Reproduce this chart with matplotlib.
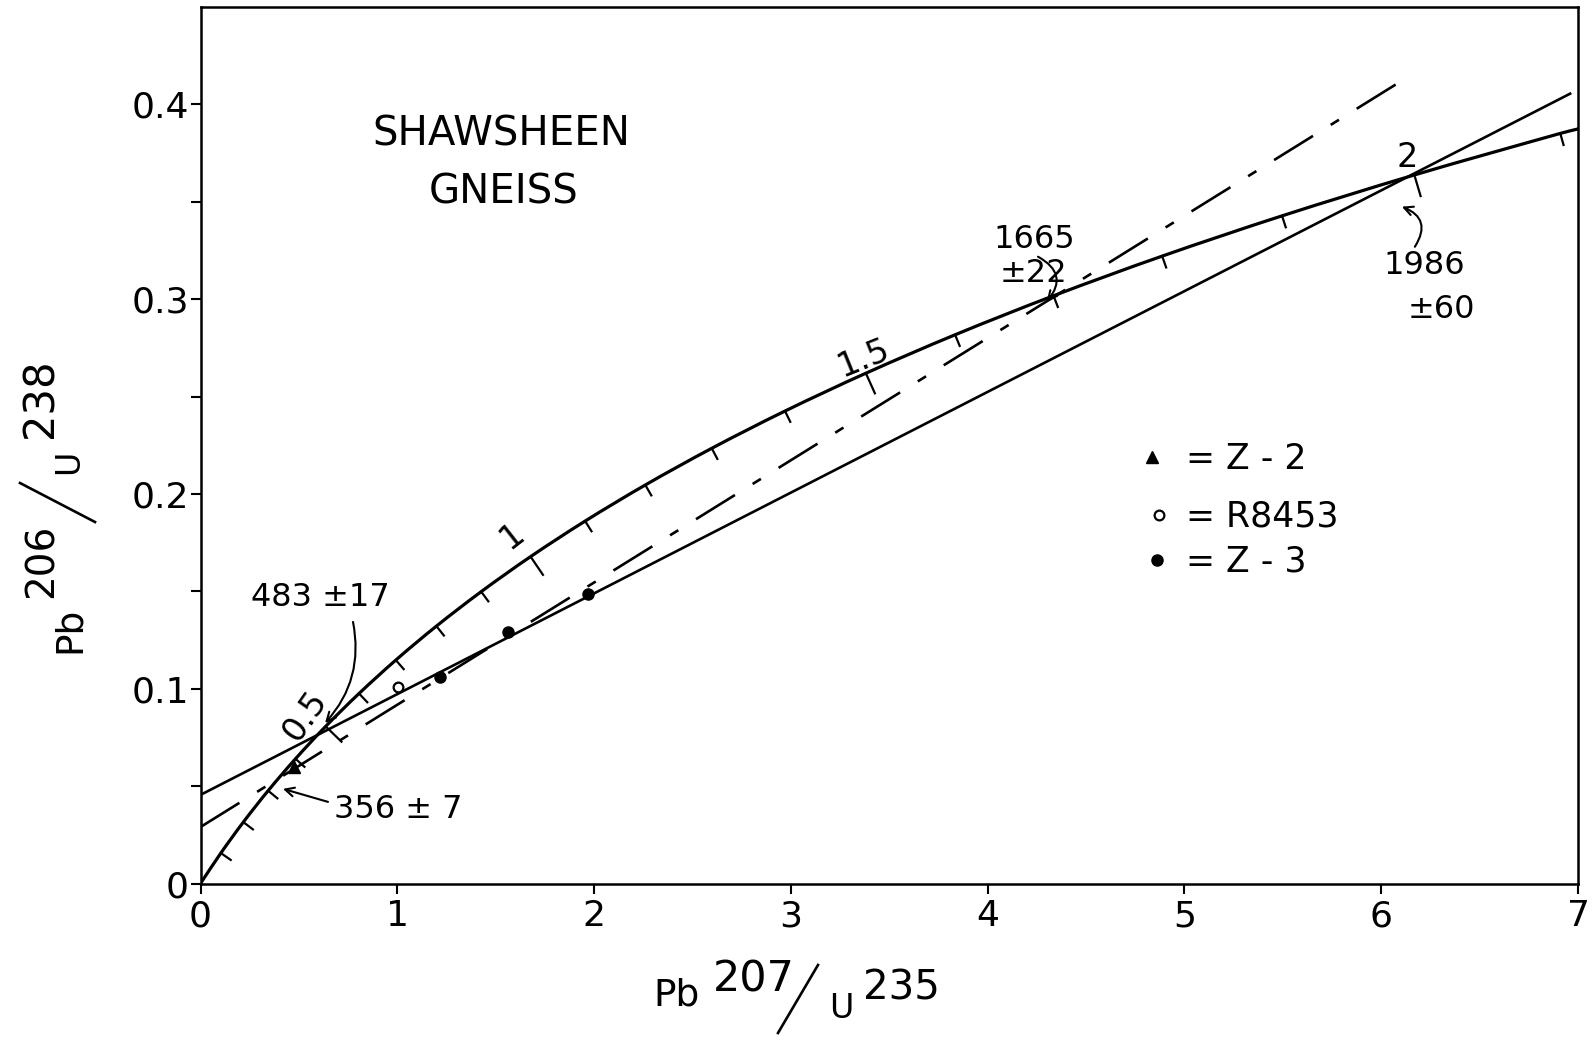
import matplotlib
matplotlib.use("Agg")
import matplotlib.pyplot as plt
import numpy as np
from matplotlib.lines import Line2D
from matplotlib.path import Path
from matplotlib.patches import PathPatch

plt.rcParams['font.family'] = ['DejaVu Sans']
plt.rcParams['lines.scale_dashes'] = False

W, H = 1596, 1046

# Concordia: ages (Ga) with Pb207/U235 and Pb206/U238 ratios
concordia_age = [0.0, 0.1, 0.2, 0.3, 0.4, 0.5, 0.6, 0.7, 0.8, 0.9, 1.0,
                 1.1, 1.2, 1.3, 1.4, 1.5, 1.6, 1.7, 1.8, 1.9, 2.0, 2.1]
concordia_x = [0.0, 0.1035, 0.2177, 0.3437, 0.4828, 0.6362, 0.8056, 0.9925,
               1.1987, 1.4264, 1.6774, 1.9546, 2.2604, 2.5980, 2.9703, 3.3812,
               3.8346, 4.3349, 4.8869, 5.4961, 6.1684, 6.9100]
concordia_y = [0.0, 0.01563, 0.03151, 0.04764, 0.06402, 0.08067, 0.09754,
               0.11470, 0.13213, 0.14983, 0.16782, 0.18607, 0.20460, 0.22343,
               0.24256, 0.26198, 0.28171, 0.30175, 0.32210, 0.34277, 0.36376,
               0.38510]
# the curve runs on to the right-hand edge
concordia_end_x = 7.0
concordia_end_y = 0.3874

# labelled ages along the concordia
age_labels = ["0.5", "1", "1.5", "2"]
age_label_values = [0.5, 1.0, 1.5, 2.0]

# discordia chords
chord_solid_x = [0.0, 6.96]
chord_solid_y = [0.0455, 0.4055]
chord_dash_x = [0.0, 6.15]
chord_dash_y = [0.029, 0.415]

# zircon analyses
z2_x = [0.476]
z2_y = [0.0596]
r8453_x = [1.004]
r8453_y = [0.1009]
z3_x = [1.215, 1.562, 1.971]
z3_y = [0.1061, 0.1291, 0.1484]

sample_names = ["Z - 2", "R8453", "Z - 3"]

x_ticks = [0, 1, 2, 3, 4, 5, 6, 7]
x_ticklabels = ["0", "1", "2", "3", "4", "5", "6", "7"]
y_ticks = [0.0, 0.05, 0.1, 0.15, 0.2, 0.25, 0.3, 0.35, 0.4]
y_ticklabels = ["0", "", "0.1", "", "0.2", "", "0.3", "", "0.4"]

ink = "black"

fig = plt.figure(figsize=(W / 100, H / 100), dpi=100, facecolor="white")
ax = fig.add_axes([200.5 / W, 1 - 883.5 / H, (1578 - 200.5) / W, (883.5 - 7) / H])
ax.set_xlim(0, 7)
ax.set_ylim(0, 0.450)

for sp in ax.spines.values():
    sp.set_linewidth(1.8)
ax.set_xticks(x_ticks)
ax.set_xticklabels(x_ticklabels)
ax.set_yticks(y_ticks)
ax.set_yticklabels(y_ticklabels)
ax.tick_params(axis="both", direction="out", length=7.5, width=1.5, labelsize=26)
ax.tick_params(axis="x", pad=4)
ax.tick_params(axis="y", pad=1)


def px2data(px, py):
    return (px - 200.5) / 196.8, (883.5 - py) / 1947.0


# concordia curve: smooth cubic path through the listed points
cx = concordia_x + [concordia_end_x]
cy = concordia_y + [concordia_end_y]
disp = ax.transData.transform(np.column_stack([cx, cy]))
inv = ax.transData.inverted()
seg_len = np.hypot(*np.diff(disp, axis=0).T)
t = np.concatenate([[0], np.cumsum(seg_len)])
m = np.zeros_like(disp)
m[0] = (disp[1] - disp[0]) / (t[1] - t[0])
m[-1] = (disp[-1] - disp[-2]) / (t[-1] - t[-2])
for i in range(1, len(disp) - 1):
    m[i] = (disp[i + 1] - disp[i - 1]) / (t[i + 1] - t[i - 1])
verts = [disp[0]]
codes = [Path.MOVETO]
for i in range(len(disp) - 1):
    h = t[i + 1] - t[i]
    verts += [disp[i] + m[i] * h / 3, disp[i + 1] - m[i + 1] * h / 3, disp[i + 1]]
    codes += [Path.CURVE4] * 3
verts_data = inv.transform(np.array(verts))
ax.add_patch(PathPatch(Path(verts_data, codes), fill=False, edgecolor=ink,
                       lw=2.3, zorder=3, capstyle="round"))

# 0.1 Ga ticks on the concordia, perpendicular on the lower side
for i in range(1, len(concordia_age)):
    tan = m[i] / np.hypot(*m[i])
    n = np.array([tan[1], -tan[0]])
    major = any(abs(concordia_age[i] - a) < 1e-6 for a in age_label_values)
    L = 22 if major else 12
    seg = inv.transform(np.vstack([disp[i], disp[i] + L * n]))
    ax.plot(seg[:, 0], seg[:, 1], color=ink, lw=1.6, zorder=3)

# age labels on the concordia
age_label_pos = {"0.5": (0.531, 0.0860, 55), "1": (1.583, 0.1785, 38),
                 "1.5": (3.368, 0.2698, 22), "2": (6.131, 0.3726, 0)}
for lab in age_labels:
    px, py, rot = age_label_pos[lab]
    ax.text(px, py, lab, fontsize=24, rotation=rot, ha="center", va="center",
            rotation_mode="anchor")

# discordia chords
ax.plot(chord_solid_x, chord_solid_y, color=ink, lw=1.9, zorder=2)
dash_line, = ax.plot(chord_dash_x, chord_dash_y, color=ink, lw=1.9, zorder=2)
dash_line.set_dashes((33, 15, 7, 15))

# analyses
ax.plot(z2_x, z2_y, ls="none", marker="^", ms=9, color=ink, zorder=4)
ax.plot(r8453_x, r8453_y, ls="none", marker="o", ms=7, mfc="white", mec=ink,
        mew=1.6, zorder=4)
ax.plot(z3_x, z3_y, ls="none", marker="o", ms=8, color=ink, zorder=4)

# title
ax.text(1.528, 0.3844, "SHAWSHEEN", fontsize=29, ha="center", va="center")
ax.text(1.538, 0.3546, "GNEISS", fontsize=29, ha="center", va="center")

# intercept ages
ax.text(0.607, 0.1466, "483 ±17", fontsize=23, ha="center", va="center")
ax.text(0.678, 0.0378, "356 ± 7", fontsize=23, ha="left", va="center")
ax.text(4.03, 0.3305, "1665", fontsize=23, ha="left", va="center")
ax.text(4.06, 0.3130, "±22", fontsize=23, ha="left", va="center")
ax.text(6.013, 0.3171, "1986", fontsize=23, ha="left", va="center")
ax.text(6.135, 0.2946, "±60", fontsize=23, ha="left", va="center")

arrow = dict(arrowstyle="->", lw=1.5, color=ink, mutation_scale=16,
             shrinkA=0, shrinkB=0)
ax.annotate("", xy=(0.633, 0.0824), xytext=(0.775, 0.1343),
            arrowprops=dict(arrow, connectionstyle="arc3,rad=-0.25"))
ax.annotate("", xy=(0.419, 0.0486), xytext=(0.648, 0.0419),
            arrowprops=dict(arrow, connectionstyle="arc3,rad=0"))
ax.annotate("", xy=(4.30, 0.2987), xytext=(4.256, 0.3218),
            arrowprops=dict(arrow, connectionstyle="arc3,rad=-0.6"))
ax.annotate("", xy=(6.105, 0.3475), xytext=(6.171, 0.3269),
            arrowprops=dict(arrow, connectionstyle="arc3,rad=0.6"))

# key
key_rows = [457, 515, 560]
key_marker_px = [1152, 1159, 1157]
key_styles = [dict(marker="^", ms=9, color=ink),
              dict(marker="o", ms=7, mfc="white", mec=ink, mew=1.6),
              dict(marker="o", ms=8, color=ink)]
for name, row, mx, st in zip(sample_names, key_rows, key_marker_px, key_styles):
    kx, ky = px2data(mx, row)
    ax.plot([kx], [ky], ls="none", clip_on=False, **st)
    tx, tb = px2data(1186, row + 12)
    ax.text(tx, tb, "= " + name, fontsize=25, ha="left", va="baseline")


def ftext(px, py, s, **kw):
    fig.text(px / W, 1 - py / H, s, **kw)


# x-axis label Pb207/U235
ftext(653, 1005, "Pb", fontsize=27, ha="left", va="baseline")
ftext(713, 992, "207", fontsize=31, ha="left", va="baseline")
fig.add_artist(Line2D([818 / W, 778 / W], [1 - 965 / H, 1 - 1033 / H],
                      transform=fig.transFigure, lw=1.9, color=ink))
ftext(829, 1018, "U", fontsize=24, ha="left", va="baseline")
ftext(863, 1000, "235", fontsize=29, ha="left", va="baseline")

# y-axis label Pb206/U238
def ytext(px, py, s, size):
    ftext(px, py, s, fontsize=size, rotation=90, rotation_mode="anchor",
          ha="left", va="baseline")


ytext(80, 653, "Pb", 27)
ytext(53, 598, "206", 28)
fig.add_artist(Line2D([20 / W, 95 / W], [1 - 483 / H, 1 - 522 / H],
                      transform=fig.transFigure, lw=1.9, color=ink))
ytext(78, 474, "U", 24)
ytext(52, 438, "238", 30)

fig.savefig("out.png", dpi=100, facecolor="white")
